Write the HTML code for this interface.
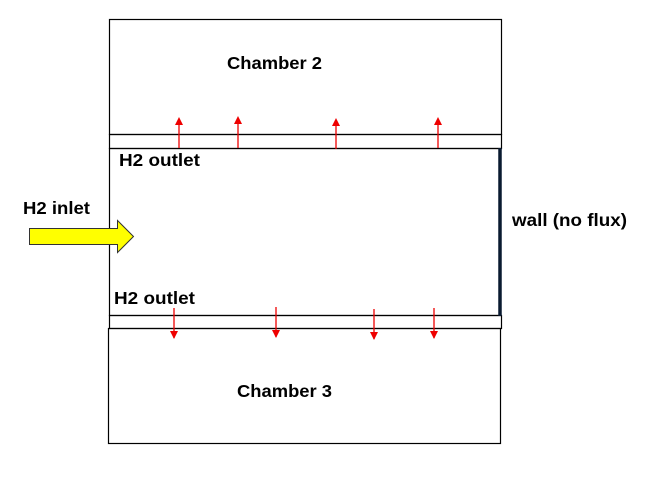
<!DOCTYPE html>
<html><head><meta charset="utf-8"><style>html,body{margin:0;padding:0;background:#fff}svg{display:block}</style></head>
<body>
<svg width="651" height="502" viewBox="0 0 651 502" xmlns="http://www.w3.org/2000/svg">
<g fill="none" stroke="#000" stroke-width="1.2">
<rect x="109.5" y="19.5" width="392" height="115"/>
<rect x="109.5" y="134.5" width="392" height="14"/>
<rect x="109.5" y="148.5" width="391" height="167"/>
<rect x="109.5" y="315.5" width="392" height="13"/>
<rect x="108.5" y="328.5" width="392" height="115"/>
</g>
<line x1="500" y1="148" x2="500" y2="316" stroke="#0a1a30" stroke-width="3.5"/>
<g stroke="#e00" stroke-width="1.3">
<line x1="179" y1="148" x2="179" y2="119"/>
<line x1="238" y1="148" x2="238" y2="118"/>
<line x1="336" y1="149" x2="336" y2="120"/>
<line x1="438" y1="148" x2="438" y2="119"/>
<line x1="174" y1="308" x2="174" y2="338"/>
<line x1="276" y1="307" x2="276" y2="337"/>
<line x1="374" y1="309" x2="374" y2="339"/>
<line x1="434" y1="308" x2="434" y2="338"/>
</g>
<g fill="#e00">
<path d="M175,125 L179,117 L183,125Z"/><path d="M234,124 L238,116 L242,124Z"/>
<path d="M332,126 L336,118 L340,126Z"/><path d="M434,125 L438,117 L442,125Z"/>
<path d="M170,331 L174,339 L178,331Z"/><path d="M272,330 L276,338 L280,330Z"/>
<path d="M370,332 L374,340 L378,332Z"/><path d="M430,331 L434,339 L438,331Z"/>
</g>
<path d="M29.5,228.5 H117.5 V220.5 L133.5,236.5 L117.5,252.5 V244.5 H29.5 Z" fill="#ffff00" stroke="#333" stroke-width="1"/>
<g font-family="Liberation Sans, sans-serif" font-weight="bold" font-size="17.5" fill="#000">
<text x="227" y="69" textLength="95" lengthAdjust="spacingAndGlyphs">Chamber 2</text>
<text x="119" y="166" textLength="81" lengthAdjust="spacingAndGlyphs">H2 outlet</text>
<text x="114" y="304" textLength="81" lengthAdjust="spacingAndGlyphs">H2 outlet</text>
<text x="23" y="214" textLength="67" lengthAdjust="spacingAndGlyphs">H2 inlet</text>
<text x="512" y="226" textLength="115" lengthAdjust="spacingAndGlyphs">wall (no flux)</text>
<text x="237" y="397" textLength="95" lengthAdjust="spacingAndGlyphs">Chamber 3</text>
</g>
</svg>
</body></html>
